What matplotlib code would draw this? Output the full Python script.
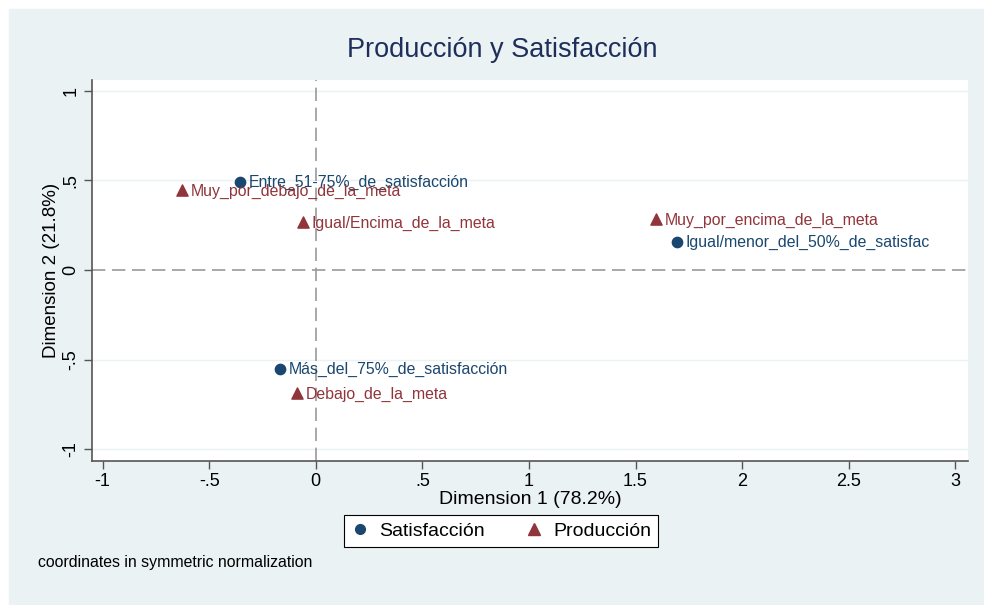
import matplotlib.pyplot as plt
from matplotlib.lines import Line2D

plt.rcParams['font.family'] = ['Liberation Sans', 'DejaVu Sans']

# row categories (Satisfaccion) and column categories (Produccion)
sat_labels = ["Entre_51-75%_de_satisfacción", "Igual/menor_del_50%_de_satisfac",
              "Más_del_75%_de_satisfacción"]
sat_dim1 = [-0.357, 1.693, -0.169]
sat_dim2 = [0.49, 0.156, -0.552]

prod_labels = ["Muy_por_debajo_de_la_meta", "Igual/Encima_de_la_meta",
               "Muy_por_encima_de_la_meta", "Debajo_de_la_meta"]
prod_dim1 = [-0.63, -0.061, 1.594, -0.089]
prod_dim2 = [0.446, 0.267, 0.284, -0.685]

xticks = [-1, -0.5, 0, 0.5, 1, 1.5, 2, 2.5, 3]
xticklabels = ["-1", "-.5", "0", ".5", "1", "1.5", "2", "2.5", "3"]
yticks = [-1, -0.5, 0, 0.5, 1]
yticklabels = ["-1", "-.5", "0", ".5", "1"]

blue = "#1a476f"
red = "#90353b"
bg = "#eaf2f3"

fig = plt.figure(figsize=(9.84, 6.05), dpi=100)
fig.patch.set_facecolor("white")
fig.patches.append(plt.Rectangle((9 / 984, 0), 1, 1 - 9 / 605,
                                 transform=fig.transFigure, color=bg, zorder=-1))

ax = fig.add_axes([92 / 984, 1 - 461 / 605, (968 - 92) / 984, (461 - 80) / 605])
ax.set_facecolor("white")
ax.set_xlim(-1.05, 3.06)
ax.set_ylim(-1.065, 1.06)

for v in yticks:
    if v != 0:
        ax.axhline(v, color=bg, lw=1, zorder=1)
ax.axhline(0, color="#999999", lw=1.2, ls=(0, (8, 4)), zorder=1)
ax.axvline(0, color="#999999", lw=1.2, ls=(0, (8, 4)), zorder=1)

ax.scatter(sat_dim1, sat_dim2, marker="o", s=55, color=blue, zorder=3)
ax.scatter(prod_dim1, prod_dim2, marker="^", s=65, color=red, zorder=3)

for x, y, t in zip(sat_dim1, sat_dim2, sat_labels):
    ax.annotate(t, (x, y), xytext=(6.5, 0), textcoords="offset points",
                va="center", ha="left", color=blue, fontsize=11.4)
for x, y, t in zip(prod_dim1, prod_dim2, prod_labels):
    ax.annotate(t, (x, y), xytext=(6.5, -1), textcoords="offset points",
                va="center", ha="left", color=red, fontsize=11.4)

for s in ["top", "right"]:
    ax.spines[s].set_visible(False)
for s in ["left", "bottom"]:
    ax.spines[s].set_color("#555555")
    ax.spines[s].set_linewidth(1.2)

ax.set_xticks(xticks)
ax.set_xticklabels(xticklabels, fontsize=13)
ax.set_yticks(yticks)
ax.set_yticklabels(yticklabels, fontsize=13, rotation=90, va="center")
ax.tick_params(direction="out", length=6, color="#555555", width=1, pad=3)

ax.set_xlabel("Dimension 1 (78.2%)", fontsize=14, labelpad=0)
ax.set_ylabel("Dimension 2 (21.8%)", fontsize=13.5, labelpad=2)

fig.text(0.510, 1 - 50 / 605, "Producción y Satisfacción", ha="center",
         va="center", fontsize=19.5, color="#1e2f5c")

handles = [Line2D([], [], marker="o", color=blue, ls="none", markersize=7),
           Line2D([], [], marker="^", color=red, ls="none", markersize=8)]
leg = fig.legend(handles, ["Satisfacción", "Producción"], loc="center",
                 bbox_to_anchor=(0.509, 1 - 531 / 605), ncol=2, fontsize=14,
                 frameon=True, fancybox=False, edgecolor="black",
                 facecolor="white", framealpha=1, handlelength=1.0,
                 columnspacing=2.0, handletextpad=0.5, borderpad=0.35)
leg.get_frame().set_linewidth(0.8)

fig.text(38 / 984, 1 - 562 / 605, "coordinates in symmetric normalization",
         ha="left", va="center", fontsize=11.4)

fig.savefig("out.png", dpi=100)
